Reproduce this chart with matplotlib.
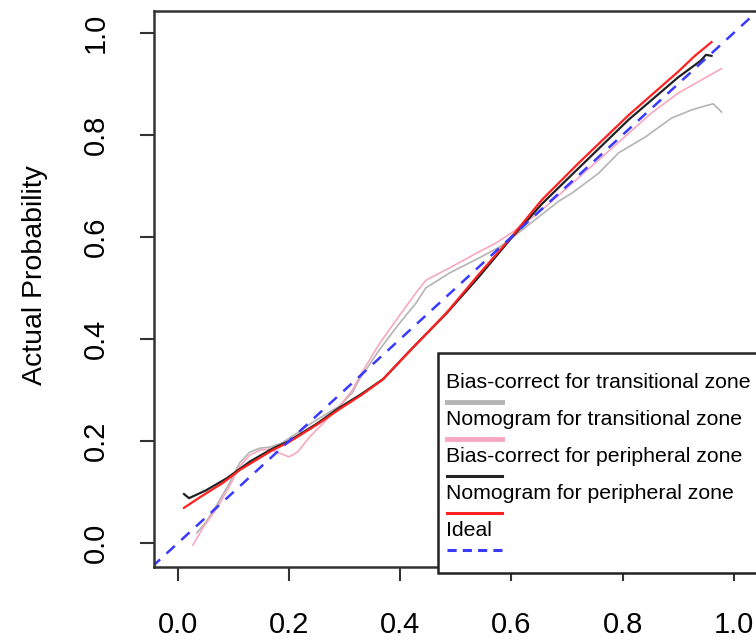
import numpy as np
import matplotlib.pyplot as plt
from matplotlib.lines import Line2D
from matplotlib.patches import Rectangle

plt.rcParams['font.family'] = ['Liberation Sans', 'DejaVu Sans']

# Calibration curves (predicted vs actual probability)
bc_trans_x = [0.034, 0.05, 0.07, 0.093, 0.111, 0.129, 0.147, 0.165, 0.185, 0.21, 0.24, 0.27,
              0.29, 0.314, 0.326, 0.362, 0.398, 0.428, 0.446, 0.488, 0.542, 0.578, 0.608,
              0.65, 0.685, 0.709, 0.757, 0.793, 0.841, 0.888, 0.924, 0.949, 0.963, 0.978]
bc_trans_y = [0.02, 0.04, 0.075, 0.118, 0.157, 0.178, 0.186, 0.188, 0.195, 0.212, 0.235, 0.255,
              0.268, 0.295, 0.32, 0.378, 0.43, 0.47, 0.50, 0.529, 0.559, 0.58, 0.604,
              0.64, 0.67, 0.686, 0.725, 0.765, 0.796, 0.833, 0.849, 0.857, 0.861, 0.845]

nomo_trans_x = [0.027, 0.045, 0.07, 0.093, 0.111, 0.129, 0.147, 0.165, 0.183, 0.2, 0.215,
                0.237, 0.267, 0.29, 0.314, 0.326, 0.362, 0.398, 0.428, 0.446, 0.488, 0.542,
                0.572, 0.6, 0.64, 0.673, 0.757, 0.852, 0.9, 0.978]
nomo_trans_y = [-0.004, 0.03, 0.068, 0.112, 0.15, 0.172, 0.182, 0.184, 0.176, 0.169, 0.178,
                0.208, 0.241, 0.267, 0.3, 0.325, 0.39, 0.445, 0.49, 0.515, 0.539, 0.571,
                0.588, 0.608, 0.64, 0.67, 0.751, 0.843, 0.882, 0.93]

bc_peri_x = [0.011, 0.02, 0.05, 0.088, 0.13, 0.17, 0.2, 0.25, 0.29, 0.33, 0.37, 0.42, 0.483,
             0.54, 0.6, 0.655, 0.721, 0.811, 0.9, 0.94, 0.95, 0.96]
bc_peri_y = [0.096, 0.088, 0.103, 0.127, 0.16, 0.185, 0.2, 0.234, 0.265, 0.292, 0.322, 0.38,
             0.45, 0.52, 0.598, 0.665, 0.735, 0.83, 0.913, 0.945, 0.957, 0.955]

nomo_peri_x = [0.011, 0.04, 0.081, 0.111, 0.17, 0.2, 0.25, 0.29, 0.33, 0.368, 0.42, 0.483,
               0.54, 0.6, 0.655, 0.721, 0.811, 0.9, 0.93, 0.96]
nomo_peri_y = [0.069, 0.09, 0.118, 0.143, 0.182, 0.198, 0.232, 0.262, 0.29, 0.32, 0.38, 0.451,
               0.525, 0.6, 0.673, 0.745, 0.839, 0.924, 0.955, 0.982]

ticks = [0.0, 0.2, 0.4, 0.6, 0.8, 1.0]
tick_labels = ['0.0', '0.2', '0.4', '0.6', '0.8', '1.0']

legend_labels = ['Bias-correct for transitional zone', 'Nomogram for transitional zone',
                 'Bias-correct for peripheral zone', 'Nomogram for peripheral zone', 'Ideal']
legend_colors = ['#b4b4b4', '#f7a8c0', '#222222', '#ff2020', '#3a3aff']

fig = plt.figure(figsize=(7.56, 6.41), dpi=100)
ax = fig.add_axes([0.2037, 0.1154, 0.7963, 0.8675])

ax.plot(bc_trans_x, bc_trans_y, color='#b4b4b4', lw=1.2)
ax.plot(nomo_trans_x, nomo_trans_y, color='#f7a8c0', lw=1.2)
ax.plot(bc_peri_x, bc_peri_y, color='#222222', lw=1.6)
ax.plot(nomo_peri_x, nomo_peri_y, color='#ff2020', lw=1.6)
ax.plot([-0.1, 1.1], [-0.1, 1.1], color='#3a3aff', lw=1.8, ls=(0, (4.5, 3.5)))

ax.set_xlim(-0.043, 1.04)
ax.set_ylim(-0.047, 1.043)
ax.set_xticks(ticks)
ax.set_xticklabels(tick_labels)
ax.set_yticks(ticks)
ax.set_yticklabels(tick_labels, rotation=90, va='center')
ax.tick_params(axis='both', length=10, width=1.5, color='#333333', labelsize=21)
ax.tick_params(axis='x', pad=22)
ax.tick_params(axis='y', pad=22)
for side in ['left', 'bottom', 'top']:
    ax.spines[side].set_linewidth(1.8)
    ax.spines[side].set_color('#333333')
ax.spines['right'].set_visible(False)

ax.set_ylabel('Actual Probability', fontsize=20.5)
ax.yaxis.set_label_coords(-0.176, 0.525)

# legend box drawn by hand: label text with its line sample underneath
x0, y_top = 0.472, 0.385
ax.add_patch(Rectangle((x0, -0.01), 0.6, y_top + 0.01, transform=ax.transAxes,
                       facecolor='white', edgecolor='#222222', lw=1.8, zorder=5,
                       clip_on=False))
widths = [3.5, 3.5, 2.2, 2.2, 2.2]
for i, (lab, col) in enumerate(zip(legend_labels, legend_colors)):
    ty = y_top - (30 + i * 37) / 556
    ax.text(x0 + 8 / 602, ty, lab, transform=ax.transAxes, fontsize=15.3,
            va='center', ha='left', zorder=6)
    ly = ty - 19 / 556
    ls = (0, (3, 2)) if lab == 'Ideal' else '-'
    ax.add_line(Line2D([x0 + 9 / 602, x0 + 64 / 602], [ly, ly], transform=ax.transAxes,
                       color=col, lw=widths[i], ls=ls, zorder=6))

fig.savefig('out.png', dpi=100)
